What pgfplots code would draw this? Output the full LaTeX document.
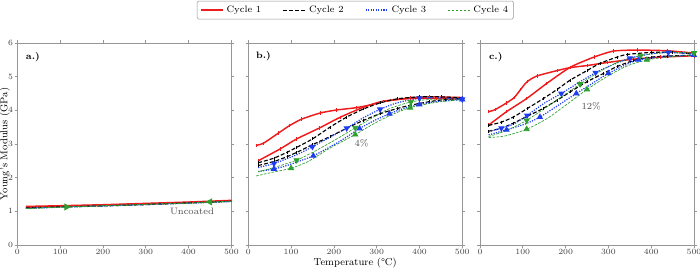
\documentclass[border=0pt]{standalone}
\usepackage{pgfplots}
\pgfplotsset{compat=1.18}

\definecolor{cred}{RGB}{238,28,28}
\definecolor{cblue}{RGB}{30,60,240}
\definecolor{cgreen}{RGB}{45,160,45}
\definecolor{axgray}{RGB}{150,150,150}

\tikzset{
  tag/.style={font=\bfseries\fontsize{7}{8}\selectfont},
  note/.style={font=\fontsize{7}{8}\selectfont, text=black!70},
}

\pgfplotsset{
  panel/.style={
    width=160.5pt, height=151.5pt, scale only axis,
    xmin=0, xmax=500, ymin=0, ymax=6,
    xtick={0,100,...,500}, ytick={0,1,...,6},
    tick align=outside, major tick length=2pt,
    axis line style={axgray, line width=0.5pt},
    tick style={axgray, line width=0.5pt},
    ticklabel style={font=\fontsize{6}{7}\selectfont, text=black!75, inner sep=1pt},
    label style={font=\fontsize{7.5}{9}\selectfont, inner sep=0pt},
  },
  % line styles of the four cycles (no marks, used in the legend)
  l1/.style={cred, line width=1.1pt},
  l2/.style={black, dash pattern=on 3pt off 1.5pt, line width=0.85pt},
  l3/.style={cblue, densely dotted, line width=0.9pt},
  l4/.style={cgreen, dash pattern=on 2pt off 1pt, line width=0.5pt},
  % with marks
  c1/.style={l1, smooth, tension=0.4, mark=|, mark size=1.3pt, mark options={solid, line width=0.5pt}},
  c2/.style={l2, smooth, tension=0.4, mark=|, mark size=1.1pt, mark options={solid, line width=0.4pt}},
  c3/.style={l3, smooth, tension=0.4, mark=triangle*, mark size=1.9pt, mark repeat=2, mark phase=2},
  c4/.style={l4, smooth, tension=0.4, mark=triangle*, mark size=2.3pt, mark repeat=3, mark phase=3},
  heat/.style={mark options={solid, rotate=-60}},
  cool/.style={mark options={solid, rotate=120}},
}

\begin{document}
\begin{tikzpicture}
\useasboundingbox (0,0) rectangle (525pt,202.5pt);

% ---------------- a.) uncoated ----------------
\begin{axis}[panel, at={(13pt,18.75pt)}, anchor=south west,
  ylabel={Young's Modulus (GPa)},
  ylabel style={at={(rel axis cs:-0.058,0.5)}, anchor=center}]
\addplot[l1, line width=1.4pt] coordinates {(20,1.14) (100,1.16) (200,1.19) (300,1.23) (400,1.27) (500,1.32)};
\addplot[l1] coordinates {(20,1.12) (100,1.15) (200,1.18) (300,1.22) (400,1.26) (500,1.31)};
\addplot[l2] coordinates {(20,1.10) (100,1.13) (200,1.16) (300,1.20) (400,1.25) (500,1.30)};
\addplot[l3] coordinates {(20,1.09) (100,1.12) (200,1.16) (300,1.20) (400,1.24) (500,1.29)};
\addplot[l4, mark=triangle*, mark size=2.6pt, mark indices={2}, mark options={solid, rotate=-90}]
  coordinates {(20,1.08) (115,1.13) (200,1.16) (300,1.20) (400,1.24) (500,1.29)};
\addplot[l4, mark=triangle*, mark size=2.6pt, mark indices={2}, mark options={solid, rotate=90}]
  coordinates {(500,1.30) (450,1.28) (400,1.25) (300,1.21) (200,1.17) (20,1.09)};
\node[tag] at (rel axis cs:0.073,0.93) {a.)};
\node[note] at (axis cs:408,0.99) {Uncoated};
\end{axis}

% ---------------- b.) 4% ----------------
\begin{axis}[panel, at={(186.2pt,18.75pt)}, anchor=south west,
  yticklabels={},
  xlabel={Temperature (°C)},
  xlabel style={at={(rel axis cs:0.5,-0.088)}, anchor=center},
  legend style={at={(0.5,1.163)}, anchor=center, legend columns=4,
    draw=axgray, rounded corners=1pt, font=\fontsize{7}{8}\selectfont,
    inner xsep=2pt, inner ysep=1.5pt,
    /tikz/every even column/.append style={column sep=14pt}},
  legend image code/.code={\draw[#1] (0pt,0pt) -- (17pt,0pt);}]
\addlegendimage{l1}\addlegendentry{Cycle 1}
\addlegendimage{l2}\addlegendentry{Cycle 2}
\addlegendimage{l3}\addlegendentry{Cycle 3}
\addlegendimage{l4}\addlegendentry{Cycle 4}
% cycle 1
\addplot[c1, forget plot] coordinates {(18,2.96) (35,3.02) (70,3.32) (97,3.55) (125,3.74) (168,3.92) (206,4.01) (253,4.08) (292,4.18) (315,4.26) (378,4.37) (424,4.40) (500,4.38)};
\addplot[c1, forget plot] coordinates {(23,2.50) (74,2.85) (113,3.15) (167,3.48) (214,3.79) (269,4.09) (315,4.27) (378,4.35) (440,4.35) (500,4.33)};
% cycle 2
\addplot[c2, forget plot] coordinates {(23,2.44) (60,2.58) (90,2.75) (113,2.90) (150,3.15) (191,3.50) (230,3.80) (269,4.04) (308,4.22) (347,4.34) (400,4.40) (450,4.40) (500,4.37)};
\addplot[c2, forget plot] coordinates {(23,2.36) (60,2.48) (90,2.62) (113,2.75) (150,2.98) (191,3.22) (230,3.47) (269,3.70) (308,3.90) (347,4.05) (378,4.15) (424,4.26) (460,4.32) (500,4.35)};
% cycle 3
\addplot[c3, heat, forget plot] coordinates {(23,2.30) (60,2.42) (113,2.68) (150,2.92) (191,3.20) (230,3.47) (269,3.78) (308,4.03) (347,4.22) (400,4.36) (450,4.37) (500,4.33)};
\addplot[c3, cool, forget plot] coordinates {(23,2.18) (60,2.26) (90,2.36) (152,2.65) (214,3.08) (260,3.46) (292,3.68) (330,3.90) (362,4.05) (400,4.17) (440,4.26) (500,4.32)};
% cycle 4
\addplot[c4, heat, forget plot] coordinates {(23,2.18) (60,2.30) (113,2.52) (150,2.75) (200,3.10) (250,3.48) (290,3.78) (330,4.05) (380,4.25) (430,4.33) (500,4.33)};
\addplot[c4, cool, forget plot] coordinates {(18,2.05) (60,2.17) (100,2.28) (140,2.48) (191,2.88) (250,3.28) (290,3.58) (330,3.84) (378,4.08) (440,4.24) (500,4.32)};
\node[tag] at (rel axis cs:0.071,0.935) {b.)};
\node[note] at (axis cs:265,3.02) {4\%};
\end{axis}

% ---------------- c.) 12% ----------------
\begin{axis}[panel, at={(360pt,18.75pt)}, anchor=south west, yticklabels={}]
% cycle 1
\addplot[c1] coordinates {(20,3.96) (35,4.02) (62,4.22) (80,4.38) (95,4.62) (110,4.85) (133,5.02) (180,5.18) (211,5.27) (250,5.33) (297,5.42) (359,5.52) (422,5.58) (500,5.62)};
\addplot[c1] coordinates {(20,3.56) (62,3.96) (109,4.35) (156,4.80) (211,5.28) (266,5.58) (312,5.76) (367,5.79) (437,5.77) (500,5.70)};
% cycle 2
\addplot[c2] coordinates {(20,3.55) (50,3.65) (78,3.80) (110,4.05) (148,4.35) (180,4.62) (211,4.90) (250,5.18) (281,5.40) (320,5.58) (344,5.66) (400,5.72) (450,5.72) (500,5.68)};
\addplot[c2] coordinates {(20,3.38) (50,3.47) (78,3.62) (110,3.82) (148,4.06) (180,4.30) (211,4.55) (250,4.85) (289,5.10) (320,5.30) (359,5.48) (400,5.58) (437,5.61) (500,5.64)};
% cycle 3
\addplot[c3, heat] coordinates {(20,3.36) (50,3.47) (80,3.60) (110,3.85) (150,4.21) (190,4.50) (230,4.82) (270,5.12) (300,5.30) (350,5.55) (400,5.68) (440,5.72) (500,5.68)};
\addplot[c3, cool] coordinates {(20,3.27) (62,3.42) (109,3.61) (140,3.80) (172,4.06) (225,4.50) (260,4.78) (300,5.10) (340,5.35) (370,5.50) (420,5.58) (500,5.64)};
% cycle 4
\addplot[c4, heat] coordinates {(20,3.22) (62,3.40) (109,3.70) (150,4.05) (190,4.40) (234,4.78) (270,5.08) (320,5.42) (375,5.62) (420,5.70) (470,5.72) (500,5.70)};
\addplot[c4, cool] coordinates {(20,3.19) (59,3.24) (109,3.44) (156,3.75) (200,4.15) (250,4.62) (300,5.03) (344,5.32) (390,5.50) (450,5.60) (500,5.64)};
\node[tag] at (rel axis cs:0.074,0.93) {c.)};
\node[note] at (axis cs:260,4.13) {12\%};
\end{axis}
\end{tikzpicture}
\end{document}
